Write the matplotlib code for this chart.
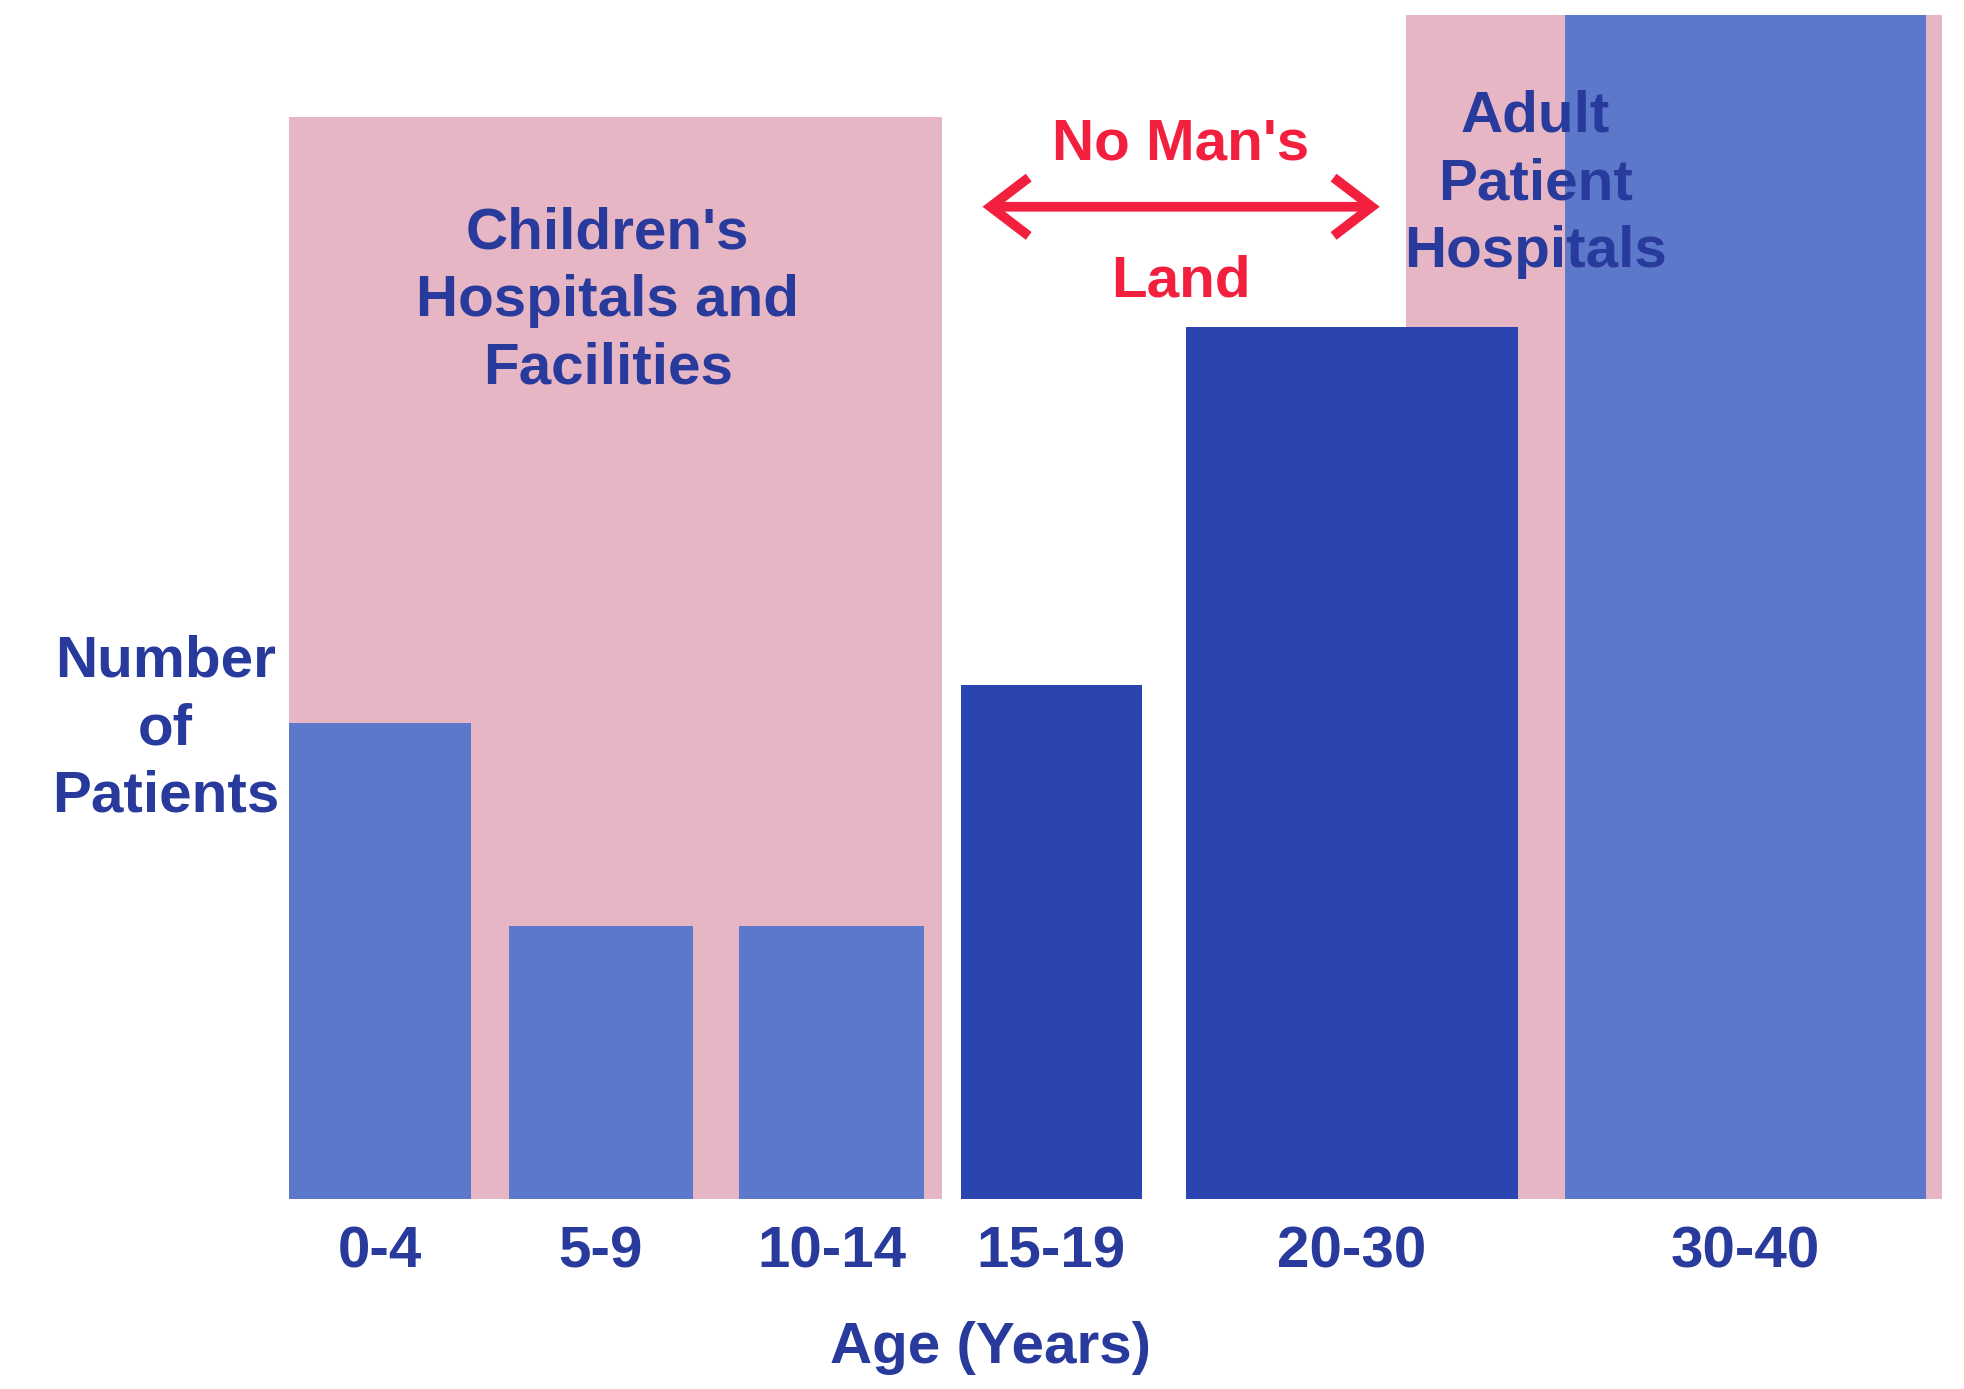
import matplotlib
matplotlib.use("Agg")
import matplotlib.pyplot as plt

# ---- data ----
age_groups = ["0-4", "5-9", "10-14", "15-19", "20-30", "30-40"]
patients = [38.0, 21.8, 21.8, 41.0, 69.6, 94.5]          # relative number of patients
bar_shade = ["light", "light", "light", "dark", "dark", "light"]
children_zone_height = 86.4
adult_zone_height = 94.5

# ---- layout (reference drawn on a ~1568-wide grid) ----
W, H = 1568.0, 1108.5
bar_left = [231, 406, 590, 767, 946, 1249]
bar_width = [145, 147, 147, 144, 265, 288]
children_zone = (231, 752)
adult_zone = (1122, 1550)

LIGHT = "#5b78cb"
DARK = "#2a45af"
PINK = "#e6b6c4"
NAVY = "#283a9c"
RED = "#f2203e"

plt.rcParams['font.family'] = ['Liberation Sans', 'DejaVu Sans']
fig = plt.figure(figsize=(19.65, 13.89), dpi=100)
fig.patch.set_facecolor("white")

x0, x1 = 231, 1550
y_base, y_top = 957, 12
ax = fig.add_axes([x0 / W, (H - y_base) / H, (x1 - x0) / W, (y_base - y_top) / H])
ax.set_xlim(x0, x1)
ax.set_ylim(0, (y_base - y_top) / 10)
ax.set_facecolor("none")
for s in ax.spines.values():
    s.set_visible(False)
ax.set_yticks([])

# background zones
ax.bar(children_zone[0], children_zone_height, width=children_zone[1] - children_zone[0],
       align="edge", color=PINK, zorder=1)
ax.bar(adult_zone[0], adult_zone_height, width=adult_zone[1] - adult_zone[0],
       align="edge", color=PINK, zorder=1)

# bars
colors = [LIGHT if s == "light" else DARK for s in bar_shade]
ax.bar(bar_left, patients, width=bar_width, align="edge", color=colors, zorder=2)

fs = 42
centers = [l + w / 2 for l, w in zip(bar_left, bar_width)]
ax.set_xticks(centers)
ax.set_xticklabels(age_groups, fontsize=fs, fontweight="bold", color=NAVY)
ax.tick_params(axis="x", length=0, pad=19)

ls = 1.32
fig.text(790 / W, 1 - 1076 / H, "Age (Years)", ha="center", va="center",
         fontsize=fs, fontweight="bold", color=NAVY)
fig.text(132 / W, 1 - 582 / H, "Number\nof\nPatients", ha="center", va="center",
         fontsize=fs, fontweight="bold", color=NAVY, linespacing=ls)
fig.text(485 / W, 1 - 240 / H, "Children's\nHospitals and\nFacilities", ha="center", va="center",
         fontsize=fs, fontweight="bold", color=NAVY, linespacing=ls, zorder=5)
fig.text(1225 / W, 1 - 147 / H, "Adult\nPatient\nHospitals", ha="center", va="center",
         fontsize=fs, fontweight="bold", color=NAVY, linespacing=ls, zorder=5)
fig.text(942 / W, 1 - 115 / H, "No Man's", ha="center", va="center",
         fontsize=fs, fontweight="bold", color=RED)
fig.text(942 / W, 1 - 225 / H, "Land", ha="center", va="center",
         fontsize=fs, fontweight="bold", color=RED)
fig.add_artist(matplotlib.patches.FancyArrowPatch(
    (784 / W, 1 - 165 / H), (1101 / W, 1 - 165 / H), transform=fig.transFigure,
    arrowstyle="<->,head_length=0.55,head_width=0.42", mutation_scale=50,
    color=RED, lw=7, shrinkA=0, shrinkB=0, joinstyle="miter", capstyle="butt"))

fig.savefig("out.png", dpi=100)
